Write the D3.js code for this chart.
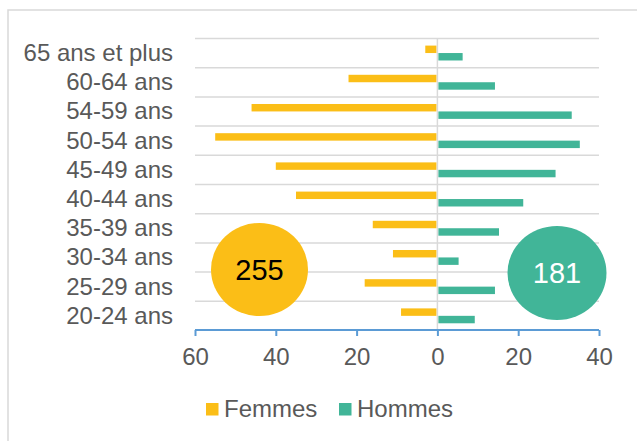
<!DOCTYPE html>
<html>
<head>
<meta charset="utf-8">
<script src="https://cdn.jsdelivr.net/npm/d3@7"></script>
<style>
  body { margin: 0; background: #fff; }
  svg { display: block; font-family: "Liberation Sans", Arial, sans-serif; }
</style>
</head>
<body>
<svg width="637" height="441"></svg>
<script>
var categories = ["65 ans et plus", "60-64 ans", "54-59 ans", "50-54 ans", "45-49 ans",
                  "40-44 ans", "35-39 ans", "30-34 ans", "25-29 ans", "20-24 ans"];
var femmes = [3, 22, 46, 55, 40, 35, 16, 11, 18, 9];
var hommes = [6, 14, 33, 35, 29, 21, 15, 5, 14, 9];
var series = ["Femmes", "Hommes"];
var totals = [255, 181];
var xTicks = [-60, -40, -20, 0, 20, 40];

var colors = { "Femmes": "#FBBE17", "Hommes": "#41B598" };

var svg = d3.select("svg");

// frame
svg.append("rect")
    .attr("x", 8).attr("y", 10)
    .attr("width", 700).attr("height", 500)
    .attr("fill", "none").attr("stroke", "#d9d9d9").attr("stroke-width", 1.5);

var x = d3.scaleLinear().domain([-60, 40]).range([195, 599]);
var y = d3.scaleBand().domain(categories).range([38, 330]).padding(0);
var y1 = d3.scaleBand().domain(series)
    .range([y.bandwidth() * 0.26, y.bandwidth() * 0.77]).padding(0);

// gridlines
svg.append("g").selectAll("line")
    .data(categories)
    .enter().append("line")
    .attr("x1", x(-60)).attr("x2", x(40))
    .attr("y1", function (d) { return y(d) + 0.5; })
    .attr("y2", function (d) { return y(d) + 0.5; })
    .attr("stroke", "#d9d9d9").attr("stroke-width", 1.5);

// zero line
svg.append("line")
    .attr("x1", x(0)).attr("x2", x(0))
    .attr("y1", 38).attr("y2", 330)
    .attr("stroke", "#d9d9d9").attr("stroke-width", 1.5);

var rows = categories.map(function (c, i) {
    return { cat: c, Femmes: femmes[i], Hommes: hommes[i] };
});

var bars = [];
rows.forEach(function (r) {
    bars.push({ cat: r.cat, s: "Femmes", v: -r.Femmes });
    bars.push({ cat: r.cat, s: "Hommes", v: r.Hommes });
});

svg.append("g").selectAll("rect")
    .data(bars)
    .enter().append("rect")
    .attr("x", function (d) { return d.v < 0 ? x(d.v) : x(0) + 1; })
    .attr("width", function (d) { return Math.abs(x(d.v) - x(0)) - (d.v < 0 ? 1 : 0); })
    .attr("y", function (d) { return y(d.cat) + y1(d.s); })
    .attr("height", y1.bandwidth())
    .attr("fill", function (d) { return colors[d.s]; });

// category labels
svg.append("g").selectAll("text")
    .data(categories)
    .enter().append("text")
    .attr("x", 173)
    .attr("y", function (d) { return y(d) + y.bandwidth() / 2; })
    .attr("dy", "0.35em")
    .attr("text-anchor", "end")
    .attr("font-size", 24)
    .attr("fill", "#595959")
    .text(function (d) { return d; });

// x axis
var xAxis = svg.append("g")
    .attr("transform", "translate(0,330)")
    .call(d3.axisBottom(x).tickValues(xTicks).tickSize(6).tickSizeOuter(0)
        .tickFormat(function (d) { return Math.abs(d); }));
xAxis.select(".domain").attr("stroke", "#5b9bd5").attr("stroke-width", 2)
    .attr("d", "M" + x(-60) + ",0H" + x(40));
xAxis.selectAll(".tick line").attr("stroke", "#5b9bd5").attr("stroke-width", 2);
xAxis.selectAll(".tick text")
    .attr("font-size", 24).attr("fill", "#595959")
    .attr("font-family", "Liberation Sans, Arial, sans-serif")
    .attr("y", 18);

// total bubbles
var bubbles = [
    { cx: 259.5, cy: 269.5, rx: 48.5, ry: 46.5, s: "Femmes", txt: "#000" },
    { cx: 557, cy: 273, rx: 49.5, ry: 47, s: "Hommes", txt: "#fff" }
];
bubbles.forEach(function (b, i) {
    svg.append("ellipse")
        .attr("cx", b.cx).attr("cy", b.cy).attr("rx", b.rx).attr("ry", b.ry)
        .attr("fill", colors[b.s]);
    svg.append("text")
        .attr("x", b.cx).attr("y", b.cy)
        .attr("dy", "0.35em")
        .attr("text-anchor", "middle")
        .attr("font-size", 29)
        .attr("fill", b.txt)
        .text(totals[i]);
});

// legend
var legend = svg.append("g");
var legendX = [206, 339];
series.forEach(function (s, i) {
    legend.append("rect")
        .attr("x", legendX[i]).attr("y", 403)
        .attr("width", 12.5).attr("height", 12.5)
        .attr("fill", colors[s]);
    legend.append("text")
        .attr("x", legendX[i] + 18).attr("y", 409)
        .attr("dy", "0.35em")
        .attr("font-size", 24)
        .attr("fill", "#595959")
        .text(s);
});
</script>
</body>
</html>
